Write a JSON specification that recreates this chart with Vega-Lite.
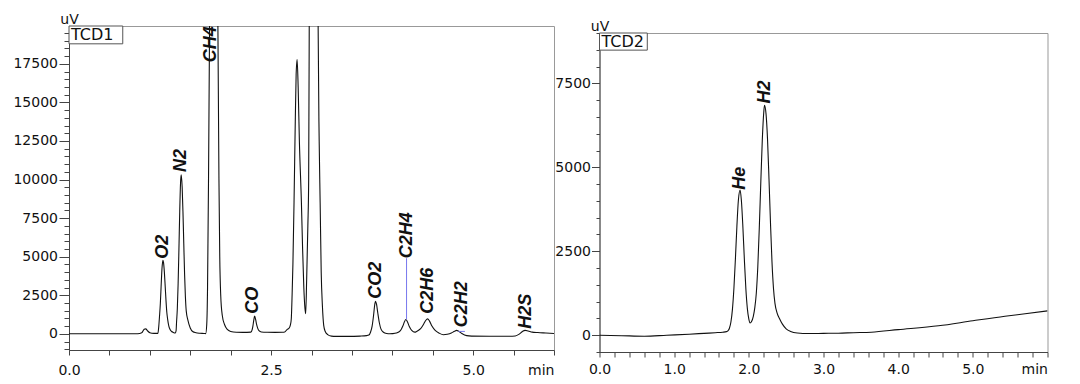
{
  "$schema": "https://vega.github.io/schema/vega-lite/v6.json",
  "background": "white",
  "padding": {"left": 12, "top": 12, "right": 0, "bottom": 0},
  "spacing": -1.5,
  "config": {
    "font": "Liberation Sans",
    "view": {"stroke": "#999", "strokeWidth": 1},
    "axis": {"grid": false, "domainColor": "#444", "tickColor": "#444", "labelColor": "#111", "labelFontSize": 14, "labelFont": "DejaVu Sans", "titleFont": "DejaVu Sans", "titleFontSize": 14, "titleFontWeight": "normal", "titleColor": "#111", "labelOverlap": false, "labelBound": false, "labelFlush": false}
  },
  "datasets": {
    "tcd1": [
      {"t": 0, "uV": 0}, {"t": 0.3, "uV": 0}, {"t": 0.6, "uV": 0}, {"t": 0.85, "uV": 0}, {"t": 0.9, "uV": 60}, {"t": 0.93, "uV": 290}, {"t": 0.95, "uV": 320}, {"t": 0.97, "uV": 200}, {"t": 1.0, "uV": 70}, {"t": 1.05, "uV": 25}, {"t": 1.1, "uV": 30},
      {"t": 1.11, "uV": 450}, {"t": 1.12, "uV": 1150}, {"t": 1.13, "uV": 1960}, {"t": 1.14, "uV": 3130}, {"t": 1.15, "uV": 4200}, {"t": 1.162, "uV": 4760}, {"t": 1.17, "uV": 4600}, {"t": 1.18, "uV": 3980}, {"t": 1.19, "uV": 3080}, {"t": 1.2, "uV": 2150}, {"t": 1.21, "uV": 1400}, {"t": 1.22, "uV": 950}, {"t": 1.235, "uV": 500}, {"t": 1.25, "uV": 280}, {"t": 1.27, "uV": 150}, {"t": 1.29, "uV": 90}, {"t": 1.315, "uV": 50},
      {"t": 1.325, "uV": 200}, {"t": 1.33, "uV": 700}, {"t": 1.34, "uV": 1630}, {"t": 1.35, "uV": 3250}, {"t": 1.36, "uV": 5500}, {"t": 1.37, "uV": 7950}, {"t": 1.38, "uV": 9790}, {"t": 1.388, "uV": 10300}, {"t": 1.4, "uV": 9500}, {"t": 1.41, "uV": 7870}, {"t": 1.42, "uV": 5830}, {"t": 1.43, "uV": 3860}, {"t": 1.44, "uV": 2400}, {"t": 1.45, "uV": 1500}, {"t": 1.47, "uV": 900}, {"t": 1.5, "uV": 380}, {"t": 1.53, "uV": 150}, {"t": 1.57, "uV": 70}, {"t": 1.62, "uV": 35}, {"t": 1.67, "uV": 20}, {"t": 1.691, "uV": 10},
      {"t": 1.704, "uV": 600}, {"t": 1.714, "uV": 3000}, {"t": 1.726, "uV": 10000}, {"t": 1.739, "uV": 20000}, {"t": 1.753, "uV": 35000}, {"t": 1.772, "uV": 60000}, {"t": 1.79, "uV": 73000}, {"t": 1.809, "uV": 60000}, {"t": 1.827, "uV": 35000}, {"t": 1.842, "uV": 20000}, {"t": 1.855, "uV": 10000}, {"t": 1.865, "uV": 5000}, {"t": 1.877, "uV": 2500}, {"t": 1.896, "uV": 1200}, {"t": 1.924, "uV": 600}, {"t": 1.958, "uV": 280}, {"t": 2.0, "uV": 150}, {"t": 2.07, "uV": 100}, {"t": 2.15, "uV": 95}, {"t": 2.25, "uV": 110},
      {"t": 2.265, "uV": 250}, {"t": 2.275, "uV": 500}, {"t": 2.285, "uV": 850}, {"t": 2.296, "uV": 1147}, {"t": 2.31, "uV": 900}, {"t": 2.32, "uV": 620}, {"t": 2.335, "uV": 350}, {"t": 2.35, "uV": 200}, {"t": 2.38, "uV": 115}, {"t": 2.45, "uV": 100}, {"t": 2.55, "uV": 95}, {"t": 2.64, "uV": 105}, {"t": 2.668, "uV": 120}, {"t": 2.7, "uV": 290}, {"t": 2.72, "uV": 350}, {"t": 2.74, "uV": 600}, {"t": 2.75, "uV": 970},
      {"t": 2.76, "uV": 2500}, {"t": 2.77, "uV": 4500}, {"t": 2.784, "uV": 8535}, {"t": 2.8, "uV": 14000}, {"t": 2.81, "uV": 16800}, {"t": 2.822, "uV": 17780}, {"t": 2.835, "uV": 16000}, {"t": 2.85, "uV": 12500}, {"t": 2.875, "uV": 8535}, {"t": 2.89, "uV": 5500}, {"t": 2.905, "uV": 3000}, {"t": 2.918, "uV": 1700}, {"t": 2.928, "uV": 1300},
      {"t": 2.94, "uV": 3500}, {"t": 2.955, "uV": 7000}, {"t": 2.965, "uV": 10000}, {"t": 2.972, "uV": 20000}, {"t": 2.985, "uV": 50000}, {"t": 3.03, "uV": 90000}, {"t": 3.07, "uV": 50000}, {"t": 3.082, "uV": 20000}, {"t": 3.095, "uV": 12500}, {"t": 3.107, "uV": 8500}, {"t": 3.12, "uV": 4000}, {"t": 3.135, "uV": 1800}, {"t": 3.151, "uV": 550}, {"t": 3.17, "uV": 150}, {"t": 3.2, "uV": -50}, {"t": 3.247, "uV": -150}, {"t": 3.3, "uV": -170}, {"t": 3.45, "uV": -170}, {"t": 3.6, "uV": -150},
      {"t": 3.68, "uV": -120}, {"t": 3.71, "uV": -80}, {"t": 3.73, "uV": 100}, {"t": 3.75, "uV": 500}, {"t": 3.77, "uV": 1300}, {"t": 3.78, "uV": 1800}, {"t": 3.792, "uV": 2100}, {"t": 3.805, "uV": 1900}, {"t": 3.82, "uV": 1350}, {"t": 3.84, "uV": 700}, {"t": 3.86, "uV": 300}, {"t": 3.89, "uV": 100}, {"t": 3.93, "uV": 20}, {"t": 3.969, "uV": 0},
      {"t": 4.0, "uV": 10}, {"t": 4.05, "uV": 50}, {"t": 4.1, "uV": 200}, {"t": 4.13, "uV": 500}, {"t": 4.15, "uV": 780}, {"t": 4.167, "uV": 930}, {"t": 4.185, "uV": 800}, {"t": 4.21, "uV": 480}, {"t": 4.24, "uV": 220}, {"t": 4.279, "uV": 110},
      {"t": 4.3, "uV": 150}, {"t": 4.35, "uV": 330}, {"t": 4.39, "uV": 650}, {"t": 4.415, "uV": 880}, {"t": 4.436, "uV": 970}, {"t": 4.46, "uV": 820}, {"t": 4.49, "uV": 500}, {"t": 4.53, "uV": 220}, {"t": 4.58, "uV": 40}, {"t": 4.631, "uV": -60},
      {"t": 4.68, "uV": -30}, {"t": 4.73, "uV": 50}, {"t": 4.77, "uV": 170}, {"t": 4.795, "uV": 220}, {"t": 4.82, "uV": 170}, {"t": 4.86, "uV": 20}, {"t": 4.92, "uV": -120}, {"t": 4.98, "uV": -150}, {"t": 5.2, "uV": -160}, {"t": 5.45, "uV": -160},
      {"t": 5.52, "uV": -140}, {"t": 5.57, "uV": -20}, {"t": 5.61, "uV": 150}, {"t": 5.642, "uV": 220}, {"t": 5.68, "uV": 180}, {"t": 5.73, "uV": 110}, {"t": 5.8, "uV": 80}, {"t": 5.9, "uV": 50}, {"t": 6.0, "uV": 20}
    ],
    "tcd2": [
      {"t": 0, "uV": 0}, {"t": 0.3, "uV": -15}, {"t": 0.6, "uV": -30}, {"t": 0.9, "uV": 0}, {"t": 1.2, "uV": 30}, {"t": 1.4, "uV": 55}, {"t": 1.55, "uV": 75}, {"t": 1.65, "uV": 90}, {"t": 1.7, "uV": 106},
      {"t": 1.72, "uV": 132}, {"t": 1.74, "uV": 207}, {"t": 1.76, "uV": 393}, {"t": 1.78, "uV": 763}, {"t": 1.8, "uV": 1391}, {"t": 1.82, "uV": 2265}, {"t": 1.84, "uV": 3240}, {"t": 1.86, "uV": 4020}, {"t": 1.883, "uV": 4320}, {"t": 1.9, "uV": 4020}, {"t": 1.92, "uV": 3240}, {"t": 1.94, "uV": 2265}, {"t": 1.96, "uV": 1392}, {"t": 1.98, "uV": 800}, {"t": 2.0, "uV": 480}, {"t": 2.017, "uV": 366}, {"t": 2.035, "uV": 400}, {"t": 2.06, "uV": 560}, {"t": 2.08, "uV": 820},
      {"t": 2.1, "uV": 1250}, {"t": 2.12, "uV": 2030}, {"t": 2.14, "uV": 3190}, {"t": 2.16, "uV": 4535}, {"t": 2.18, "uV": 5795}, {"t": 2.2, "uV": 6640}, {"t": 2.21, "uV": 6850}, {"t": 2.23, "uV": 6600}, {"t": 2.25, "uV": 5855}, {"t": 2.27, "uV": 4655}, {"t": 2.29, "uV": 3345}, {"t": 2.31, "uV": 2185}, {"t": 2.33, "uV": 1400}, {"t": 2.35, "uV": 950}, {"t": 2.38, "uV": 650}, {"t": 2.41, "uV": 500}, {"t": 2.45, "uV": 330}, {"t": 2.5, "uV": 190}, {"t": 2.56, "uV": 110}, {"t": 2.65, "uV": 65},
      {"t": 2.8, "uV": 50}, {"t": 3.0, "uV": 55}, {"t": 3.2, "uV": 60}, {"t": 3.4, "uV": 75}, {"t": 3.64, "uV": 90}, {"t": 4.0, "uV": 165}, {"t": 4.54, "uV": 280}, {"t": 5.0, "uV": 430}, {"t": 5.43, "uV": 565}, {"t": 5.7, "uV": 640}, {"t": 6.0, "uV": 725}
    ],
    "peaks1": [
      {"name": "O2", "t": 1.162, "peak_uV": 4760, "label_uV": 4860},
      {"name": "N2", "t": 1.388, "peak_uV": 10300, "label_uV": 10480},
      {"name": "CH4", "t": 1.76, "peak_uV": 73000, "label_uV": 17600},
      {"name": "CO", "t": 2.275, "peak_uV": 1147, "label_uV": 1300},
      {"name": "CO2", "t": 3.795, "peak_uV": 2100, "label_uV": 2270},
      {"name": "C2H4", "t": 4.176, "peak_uV": 930, "label_uV": 4900},
      {"name": "C2H6", "t": 4.436, "peak_uV": 970, "label_uV": 1300},
      {"name": "C2H2", "t": 4.857, "peak_uV": 220, "label_uV": 430},
      {"name": "H2S", "t": 5.65, "peak_uV": 220, "label_uV": 320}
    ],
    "peaks2": [
      {"name": "He", "t": 1.883, "peak_uV": 4320, "label_uV": 4330},
      {"name": "H2", "t": 2.21, "peak_uV": 6850, "label_uV": 6900}
    ]
  },
  "hconcat": [
    {
      "width": 485,
      "height": 324,
      "layer": [
        {
          "data": {"name": "tcd1"},
          "mark": {"type": "line", "color": "#111", "strokeWidth": 1.1, "clip": true, "interpolate": "monotone"},
          "encoding": {
            "x": {"field": "t", "type": "quantitative", "scale": {"domain": [0, 6], "nice": false, "zero": false},
              "axis": {"title": null, "tickCount": 200, "values": [0, 0.5, 1, 1.5, 2, 2.5, 3, 3.5, 4, 4.5, 5, 5.5, 6],
                "labelExpr": "datum.value == 6 ? 'min' : (abs(datum.value % 2.5) < 0.001 ? format(datum.value, '.1f') : '')",
                "labelAlign": {"condition": {"test": "datum.value == 6", "value": "right"}, "value": "center"},
                "tickSize": 5, "labelPadding": 8}},
            "y": {"field": "uV", "type": "quantitative", "scale": {"domain": [-1050, 19950], "nice": false, "zero": false},
              "axis": {"tickCount": 200, "values": [-1000, -500, 0, 500, 1000, 1500, 2000, 2500, 3000, 3500, 4000, 4500, 5000, 5500, 6000, 6500, 7000, 7500, 8000, 8500, 9000, 9500, 10000, 10500, 11000, 11500, 12000, 12500, 13000, 13500, 14000, 14500, 15000, 15500, 16000, 16500, 17000, 17500, 18000, 18500, 19000, 19500],
                "labelExpr": "datum.value % 2500 == 0 ? format(datum.value, 'd') : ''",
                "tickSize": {"condition": {"test": "datum.value % 2500 == 0", "value": 10}, "value": 5},
                "labelPadding": 1.5,
                "title": "uV", "titleAngle": 0, "titleX": 0, "titleY": -2.5, "titleAlign": "center", "titleBaseline": "alphabetic"}}
          }
        },
        {
          "data": {"values": [{"panel": "TCD1"}]},
          "mark": {"type": "rect", "fill": "white", "stroke": "#555", "strokeWidth": 1},
          "encoding": {
            "x": {"datum": 0, "type": "quantitative"},
            "x2": {"datum": 0.665},
            "y": {"datum": 19950, "type": "quantitative"},
            "y2": {"datum": 18795}
          }
        },
        {
          "data": {"values": [{"panel": "TCD1"}]},
          "mark": {"type": "text", "align": "left", "baseline": "top", "dx": 2, "dy": 1, "font": "DejaVu Sans", "fontSize": 16, "color": "#111"},
          "encoding": {
            "x": {"datum": 0, "type": "quantitative"},
            "y": {"datum": 19950, "type": "quantitative"},
            "text": {"field": "panel"}
          }
        },
        {
          "data": {"name": "peaks1"},
          "transform": [{"filter": "datum.name == 'C2H4'"}],
          "mark": {"type": "rule", "color": "#7777ee", "strokeWidth": 1},
          "encoding": {
            "x": {"field": "t", "type": "quantitative"},
            "y": {"field": "peak_uV", "type": "quantitative"},
            "y2": {"field": "label_uV"}
          }
        },
        {
          "data": {"values": [{"peak": "C2H2"}]},
          "mark": {"type": "rule", "color": "#7777ee", "strokeWidth": 1},
          "encoding": {
            "x": {"datum": 4.817, "type": "quantitative"},
            "x2": {"datum": 4.898},
            "y": {"datum": 155, "type": "quantitative"}
          }
        },
        {
          "data": {"name": "peaks1"},
          "mark": {"type": "text", "angle": 270, "align": "left", "baseline": "middle", "fontSize": 18, "fontWeight": "bold", "fontStyle": "italic", "color": "#111"},
          "encoding": {
            "x": {"field": "t", "type": "quantitative"},
            "y": {"field": "label_uV", "type": "quantitative"},
            "text": {"field": "name"}
          }
        }
      ]
    },
    {
      "spacing": -8,
      "vconcat": [
        {
          "width": 448,
          "height": 1,
          "data": {"values": []},
          "mark": "point",
          "view": {"stroke": null}
        },
        {
          "width": 448,
          "height": 319,
          "layer": [
            {
              "data": {"name": "tcd2"},
              "mark": {"type": "line", "color": "#111", "strokeWidth": 1.1, "clip": true, "interpolate": "monotone"},
              "encoding": {
                "x": {"field": "t", "type": "quantitative", "scale": {"domain": [0, 6], "nice": false, "zero": false},
                  "axis": {"title": null, "tickCount": 200, "values": [0, 0.2, 0.4, 0.6, 0.8, 1, 1.2, 1.4, 1.6, 1.8, 2, 2.2, 2.4, 2.6, 2.8, 3, 3.2, 3.4, 3.6, 3.8, 4, 4.2, 4.4, 4.6, 4.8, 5, 5.2, 5.4, 5.6, 5.8, 6],
                    "labelExpr": "datum.value == 6 ? 'min' : (abs(datum.value - round(datum.value)) < 0.001 ? format(datum.value, '.1f') : '')",
                    "labelAlign": {"condition": {"test": "datum.value == 6", "value": "right"}, "value": "center"},
                    "tickSize": 5, "labelPadding": 5}},
                "y": {"field": "uV", "type": "quantitative", "scale": {"domain": [-500, 9000], "nice": false, "zero": false},
                  "axis": {"tickCount": 200, "values": [-500, 0, 500, 1000, 1500, 2000, 2500, 3000, 3500, 4000, 4500, 5000, 5500, 6000, 6500, 7000, 7500, 8000, 8500, 9000],
                    "labelExpr": "datum.value % 2500 == 0 ? format(datum.value, 'd') : ''",
                    "tickSize": {"condition": {"test": "datum.value % 2500 == 0", "value": 8}, "value": 3.5},
                    "labelPadding": 1,
                    "title": "uV", "titleAngle": 0, "titleX": 0, "titleY": -2.5, "titleAlign": "center", "titleBaseline": "alphabetic"}}
              }
            },
            {
              "data": {"values": [{"panel": "TCD2"}]},
              "mark": {"type": "rect", "fill": "white", "stroke": "#555", "strokeWidth": 1},
              "encoding": {
                "x": {"datum": 0, "type": "quantitative"},
                "x2": {"datum": 0.64},
                "y": {"datum": 9000, "type": "quantitative"},
                "y2": {"datum": 8490}
              }
            },
            {
              "data": {"values": [{"panel": "TCD2"}]},
              "mark": {"type": "text", "align": "left", "baseline": "top", "dx": 2, "dy": 1, "font": "DejaVu Sans", "fontSize": 16, "color": "#111"},
              "encoding": {
                "x": {"datum": 0, "type": "quantitative"},
                "y": {"datum": 9000, "type": "quantitative"},
                "text": {"field": "panel"}
              }
            },
            {
              "data": {"name": "peaks2"},
              "mark": {"type": "text", "angle": 270, "align": "left", "baseline": "middle", "fontSize": 18, "fontWeight": "bold", "fontStyle": "italic", "color": "#111"},
              "encoding": {
                "x": {"field": "t", "type": "quantitative"},
                "y": {"field": "label_uV", "type": "quantitative"},
                "text": {"field": "name"}
              }
            }
          ]
        }
      ]
    }
  ]
}
